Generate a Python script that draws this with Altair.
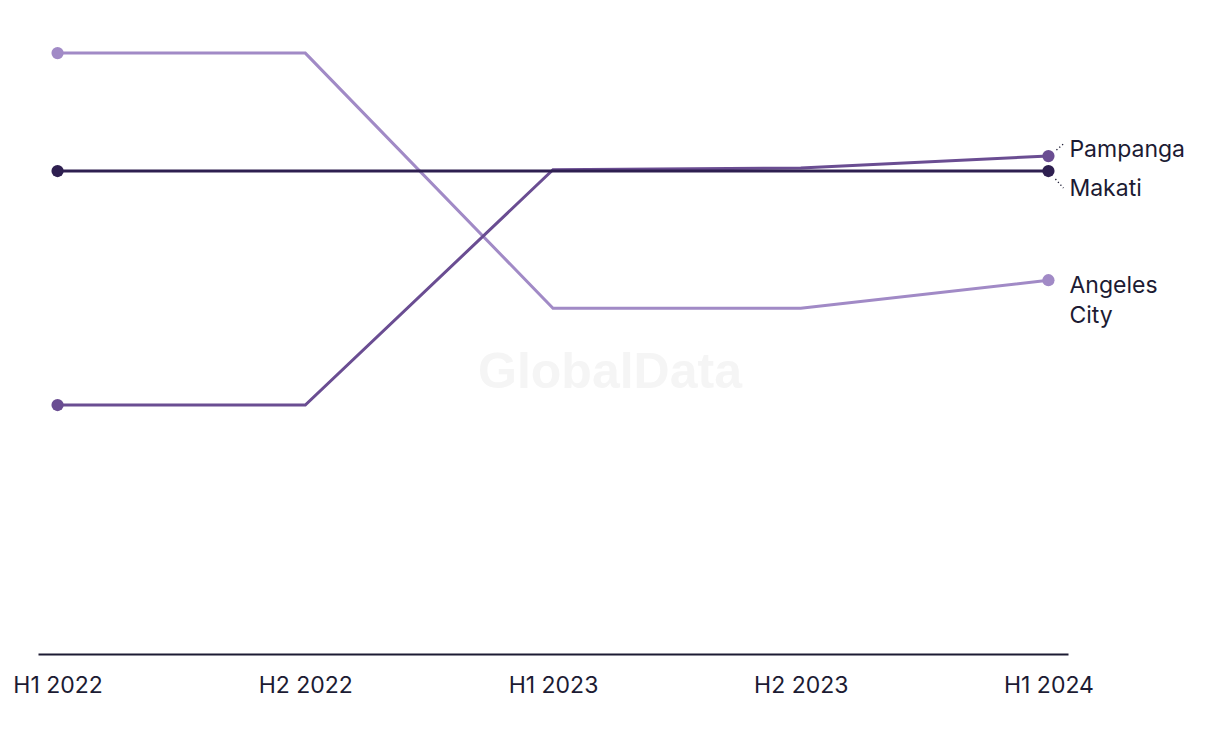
import altair as alt
import pandas as pd

periods = ["H1 2022", "H2 2022", "H1 2023", "H2 2023", "H1 2024"]
angeles_city = [9.63, 9.63, 5.54, 5.54, 5.99]
pampanga = [3.99, 3.99, 7.76, 7.79, 7.98]
makati = [7.74, 7.74, 7.74, 7.74, 7.74]

series_names = ["Angeles City", "Pampanga", "Makati"]
series_values = [angeles_city, pampanga, makati]
colors = ["#a18ac6", "#6a4d92", "#2e1f50"]

rows = []
for name, vals in zip(series_names, series_values):
    for p, v in zip(periods, vals):
        rows.append({"period": p, "value": v, "series": name})
df = pd.DataFrame(rows)

TEXT = "#1c1b33"
FONT = "Inter"

x_enc = alt.X("period:N", sort=periods,
              scale=alt.Scale(type="point", padding=0.079),
              axis=alt.Axis(title=None, ticks=False, grid=False, domain=True,
                            domainColor=TEXT, domainWidth=2,
                            labelFont=FONT, labelFontSize=23, labelColor=TEXT,
                            labelPadding=20, labelAngle=0))
y_enc = alt.Y("value:Q", scale=alt.Scale(domain=[0, 10], nice=False, zero=True), axis=None)

layers = []
for name, col in zip(series_names, colors):
    sub = df[df.series == name]
    base = alt.Chart(sub)
    layers.append(base.mark_line(color=col, strokeWidth=3).encode(x=x_enc, y=y_enc))
    ends = sub[sub.period.isin([periods[0], periods[-1]])]
    layers.append(alt.Chart(ends).mark_circle(color=col, size=150, opacity=1).encode(x=x_enc, y=y_enc))

last = df[df.period == periods[-1]]

label_specs = {
    "Pampanga": dict(text="Pampanga", dy=-6),
    "Makati": dict(text="Makati", dy=18),
    "Angeles City": dict(text=["Angeles", "City"], dy=6),
}
for name, spec in label_specs.items():
    sub = last[last.series == name]
    layers.append(alt.Chart(sub).mark_text(
        align="left", baseline="middle", dx=21, dy=spec["dy"], font=FONT,
        fontSize=23, color=TEXT, lineHeight=30, text=spec["text"]
    ).encode(x=x_enc, y=y_enc))

# small dotted leaders
lead = {"Pampanga": (8, -6, 16, -13), "Makati": (7, 8, 15, 17)}
for name, (x1, y1, x2, y2) in lead.items():
    sub = last[last.series == name]
    layers.append(alt.Chart(sub).mark_rule(
        color=TEXT, strokeWidth=1.3, strokeDash=[1.3, 2.5],
        xOffset=x1, yOffset=y1, x2Offset=x2, y2Offset=y2
    ).encode(x=x_enc, x2="period:N", y=y_enc, y2="value:Q"))

watermark = alt.Chart(pd.DataFrame({"t": ["GlobalData"]})).mark_text(
    font="Liberation Sans", fontWeight="bold", fontSize=50, color="#f5f5f5",
    align="center", baseline="middle"
).encode(text="t:N", x=alt.value(572), y=alt.value(343))

chart = alt.layer(watermark, *layers).properties(
    width=1030, height=624,
    padding={"left": 38, "top": 30, "right": 152, "bottom": 60},
    autosize=alt.AutoSizeParams(type="none"),
).configure(background="white").configure_view(stroke=None)

chart.save("out.html", embed_options={"renderer": "svg", "actions": False})
